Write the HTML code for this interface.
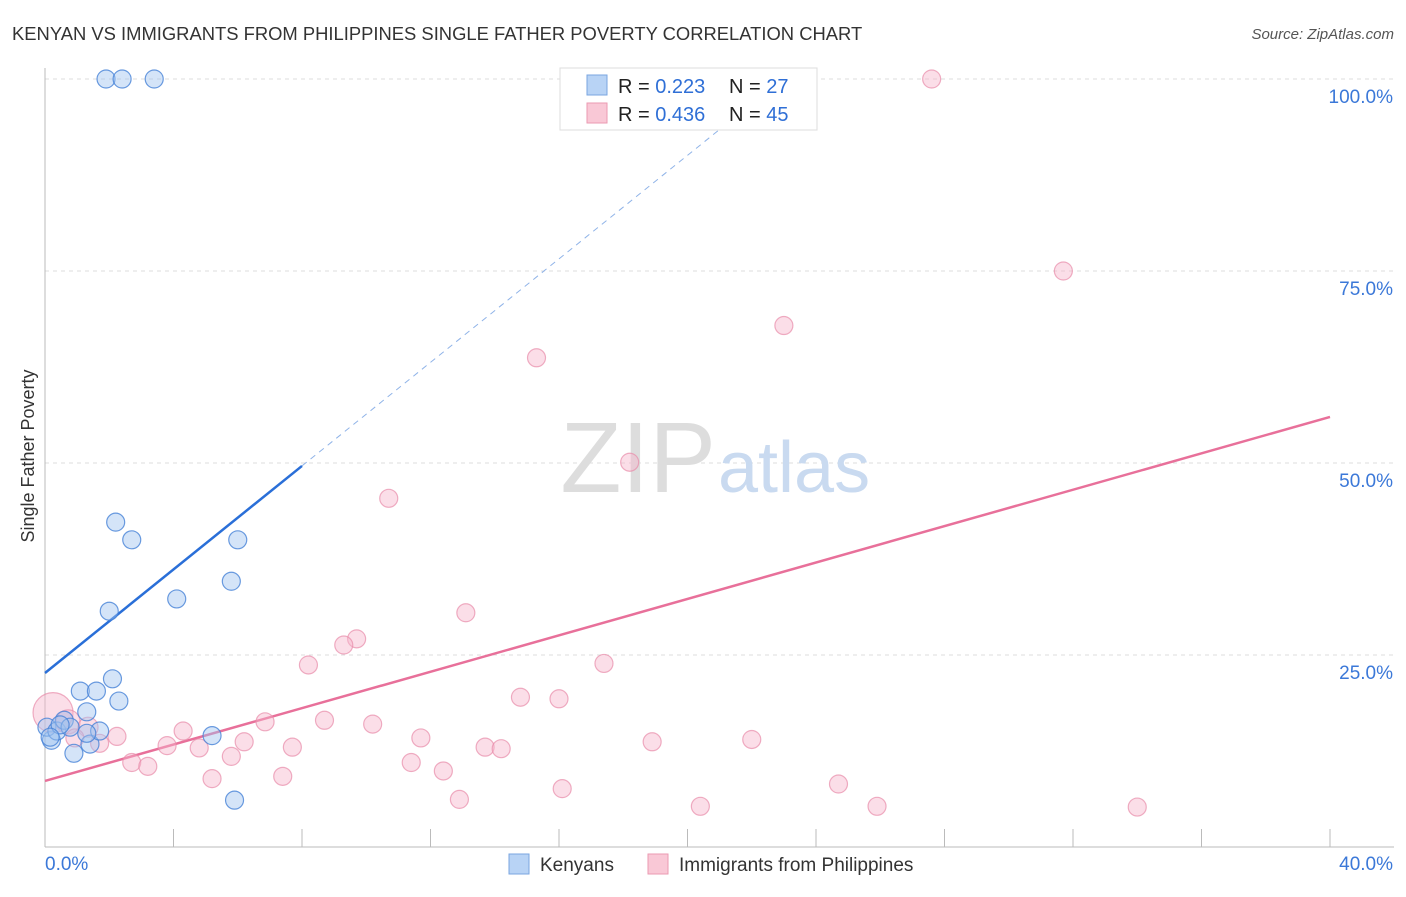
<!DOCTYPE html>
<html><head><meta charset="utf-8"><style>
body{margin:0;background:#fff;font-family:"Liberation Sans",sans-serif;}
svg text{font-family:"Liberation Sans",sans-serif;}
</style></head><body>
<svg id="chart" width="1406" height="892">
<text x="12" y="40" font-size="18.4" fill="#333">KENYAN VS IMMIGRANTS FROM PHILIPPINES SINGLE FATHER POVERTY CORRELATION CHART</text>
<text x="1394" y="39" font-size="15" fill="#555" font-style="italic" text-anchor="end">Source: ZipAtlas.com</text>
<text x="34" y="456" font-size="18" fill="#333" text-anchor="middle" transform="rotate(-90 34 456)">Single Father Poverty</text>
<g id="grid"></g>
<text x="716" y="492" font-size="100" fill="#ddd" text-anchor="end" font-family="Liberation Serif">ZIP</text>
<text x="718" y="492" font-size="72" fill="#c9daf0">atlas</text>
<g id="trends"></g>
<g id="points"></g>
<g>
<rect x="560" y="68" width="257" height="62" fill="#fff" stroke="#ddd"/>
<rect x="587" y="75" width="20" height="20" fill="#b8d3f5" stroke="#7aa6e0"/>
<rect x="587" y="103" width="20" height="20" fill="#f9c8d6" stroke="#eb9ab2"/>
<text x="618" y="93" font-size="20" fill="#222">R = <tspan fill="#2f6fd6">0.223</tspan><tspan x="729">N = </tspan><tspan fill="#2f6fd6">27</tspan></text>
<text x="618" y="121" font-size="20" fill="#222">R = <tspan fill="#2f6fd6">0.436</tspan><tspan x="729">N = </tspan><tspan fill="#2f6fd6">45</tspan></text>
</g>
<g>
<rect x="509" y="854" width="20" height="20" fill="#b8d3f5" stroke="#7aa6e0"/>
<text x="540" y="871" font-size="19" fill="#333">Kenyans</text>
<rect x="648" y="854" width="20" height="20" fill="#f9c8d6" stroke="#eb9ab2"/>
<text x="679" y="871" font-size="19" fill="#333">Immigrants from Philippines</text>
</g>
</svg>
<script>
const yTicks=[25,50,75,100];
const yTickLabels=["25.0%","50.0%","75.0%","100.0%"];
const xTicks=[0,4,8,12,16,20,24,28,32,36,40];
const kenX=[1.9,2.4,3.4,2.2,2.7,6.0,5.8,4.1,2.0,2.1,1.1,1.6,2.3,1.3,5.2,5.9,0.9,1.4,0.2,0.06,0.37,0.6,0.78,1.7,1.3,0.47,0.16];
const kenY=[100,100,100,42.3,40,40,34.6,32.3,30.7,21.9,20.3,20.3,19,17.6,14.5,6.1,12.2,13.4,13.9,15.6,15.1,16.5,15.6,15.1,14.8,15.9,14.3];
const phX=[27.6,31.7,23.0,15.3,18.2,10.7,13.1,9.7,9.3,8.2,17.4,14.8,16.0,6.85,8.7,10.2,4.3,11.7,3.8,4.8,6.2,7.7,13.7,14.2,18.9,22.0,2.24,1.7,2.7,3.2,5.8,11.4,12.4,5.2,7.4,12.9,16.1,20.4,24.7,25.9,34.0,0.25,0.72,1.34,0.93];
const phY=[100,75,67.9,63.7,50.1,45.4,30.5,27.1,26.3,23.7,23.9,19.5,19.3,16.3,16.5,16.0,15.1,14.2,13.2,12.9,13.7,13.0,13.0,12.8,13.7,14.0,14.4,13.5,11.0,10.5,11.8,11.0,9.9,8.9,9.2,6.2,7.6,5.3,8.2,5.3,5.2,17.5,16.3,15.6,14.2];
const phR=[9,9,9,9,9,9,9,9,9,9,9,9,9,9,9,9,9,9,9,9,9,9,9,9,9,9,9,9,9,9,9,9,9,9,9,9,9,9,9,9,9,20,12,10,9];
const kenTrend=[22.66,3.37]; // intercept, slope
const phTrend=[8.6,1.185];
const NS="http://www.w3.org/2000/svg";
const X=v=>45+v*32.125, Y=v=>847-v*7.68;
function mk(tag,attrs,parent){const e=document.createElementNS(NS,tag);for(const k in attrs)e.setAttribute(k,attrs[k]);parent.appendChild(e);return e;}
const grid=document.getElementById('grid');
yTicks.forEach((t,i)=>{
 const l=mk('line',{x1:45,x2:1394,y1:Y(t),y2:Y(t),stroke:'#ddd','stroke-dasharray':'4 4'},grid);
 
 
 const tx=mk('text',{x:1393,y:Y(t)+24,'font-size':19,fill:'#3b78d8','text-anchor':'end'},grid);
 tx.textContent=yTickLabels[i];
 
 
});
const ax=mk('line',{x1:45,x2:1394,y1:847,y2:847,stroke:'#bbb'},grid);


const ay=mk('line',{x1:45,x2:45,y1:68,y2:847,stroke:'#bbb'},grid);


xTicks.forEach(t=>{if(t===0)return;
 const l=mk('line',{x1:X(t),x2:X(t),y1:829,y2:847,stroke:'#bbb'},grid);
 
 
});
const xl=mk('text',{x:45,y:870,'font-size':19,fill:'#3b78d8'},grid);xl.textContent='0.0%';


const xr=mk('text',{x:1393,y:870,'font-size':19,fill:'#3b78d8','text-anchor':'end'},grid);xr.textContent='40.0%';


const tr=document.getElementById('trends');
const kEnd=(100-kenTrend[0])/kenTrend[1];
const k1=mk('line',{x1:X(0),y1:Y(kenTrend[0]),x2:X(8),y2:Y(kenTrend[0]+8*kenTrend[1]),stroke:'#2a6fd8','stroke-width':2.5},tr);


const k2=mk('line',{x1:X(8),y1:Y(kenTrend[0]+8*kenTrend[1]),x2:X(kEnd),y2:Y(100),stroke:'#8fb3e8','stroke-width':1,'stroke-dasharray':'6 5'},tr);


const p1=mk('line',{x1:X(0),y1:Y(phTrend[0]),x2:X(40),y2:Y(phTrend[0]+40*phTrend[1]),stroke:'#e8709a','stroke-width':2.5},tr);


const pts=document.getElementById('points');
phX.forEach((v,i)=>{const c=mk('circle',{cx:X(v),cy:Y(phY[i]),r:phR[i],fill:'rgba(247,182,203,0.45)',stroke:'rgba(232,140,170,0.7)','stroke-width':1.2},pts);
 
 });
kenX.forEach((v,i)=>{const c=mk('circle',{cx:X(v),cy:Y(kenY[i]),r:9,fill:'rgba(160,196,240,0.45)',stroke:'rgba(70,130,215,0.8)','stroke-width':1.2},pts);
 
 });
</script>
</body></html>
